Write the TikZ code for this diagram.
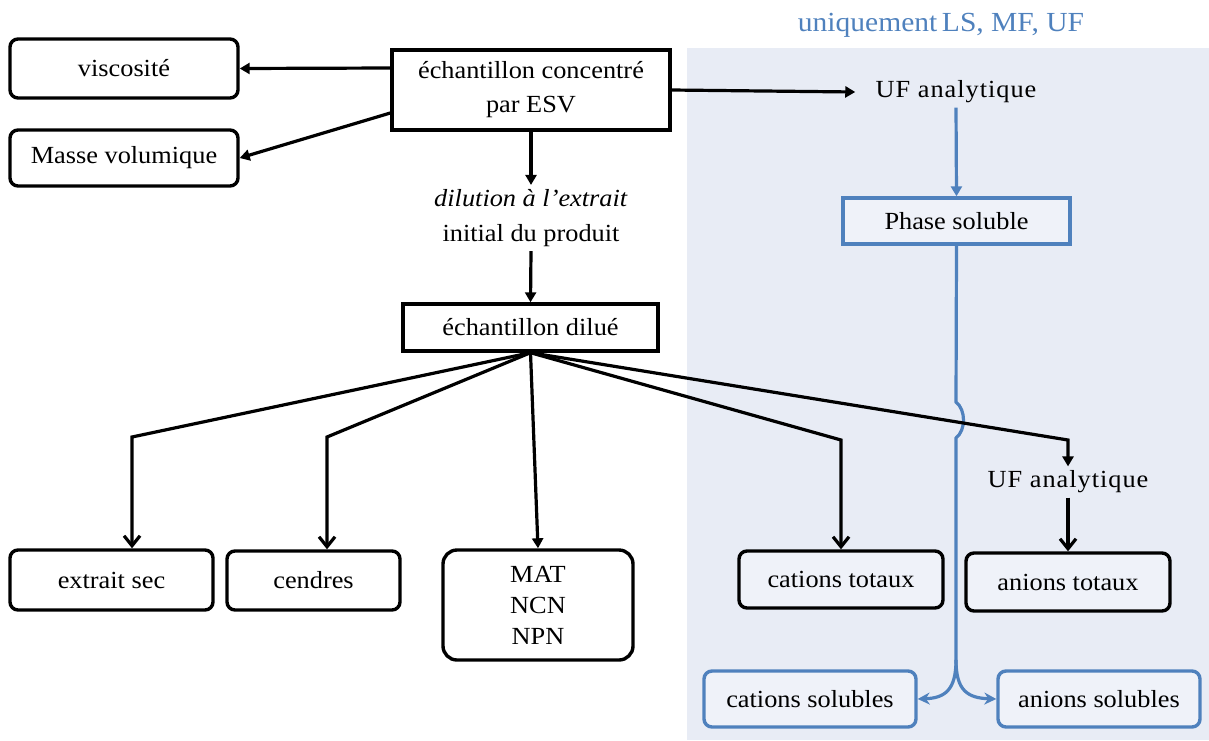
\documentclass[tikz,border=0pt]{standalone}
\usepackage{fontspec}
\setmainfont{Liberation Serif}[FakeStretch=1.07]
\usetikzlibrary{arrows.meta}
\definecolor{pblue}{RGB}{79,129,189}
\definecolor{panel}{RGB}{232,236,245}
\definecolor{boxin}{RGB}{239,242,249}
\begin{document}
\begin{tikzpicture}[x=0.5pt,y=-0.5pt,
  font=\fontsize{12.3}{14.5}\selectfont,
  box/.style={draw=black, line width=1.7pt, rounded corners=4pt, align=center, inner sep=0pt, fill=white},
  ibox/.style={box, fill=boxin},
  sq/.style={box, rounded corners=0pt},
  bbox/.style={draw=pblue, line width=1.7pt, rounded corners=4pt, fill=boxin, inner sep=0pt, align=center},
  lbl/.style={inner sep=2pt, align=center},
  ln/.style={line width=1.6pt},
  fa/.style={ln, -{Triangle[length=5pt,width=5.5pt]}},
  oa/.style={ln, -{Straight Barb[length=5pt,width=8pt]}},
  ba/.style={ln, draw=pblue, -{Triangle[length=5pt,width=5.5pt]}},
  bs/.style={ln, draw=pblue, -{Stealth[length=6pt,width=6pt]}},
  spaced/.style={font=\fontsize{12.3}{14.5}\selectfont\addfontfeature{LetterSpace=4}}
]
\useasboundingbox (0,0) rectangle (1209,740);
% panel
\fill[panel] (687,48) rectangle (1209,740);
\node[text=pblue, font=\fontsize{13.8}{16}\selectfont] (title) at (941,25) {uniquement\,LS, MF, UF};

% left column
\node[box, minimum width=114pt, minimum height=29.5pt] (visc) at (124,68.5) {viscosité};
\node[box, minimum width=114pt, minimum height=28pt] (masse) at (124,158) {Masse volumique};
\node[sq, minimum width=139pt, minimum height=40pt, font=\fontsize{12.3}{17}\selectfont] (conc) at (531,90) {échantillon concentré\\par ESV};
\node[lbl, font=\fontsize{12.3}{17.5}\selectfont] (dilt) at (531,218) {\textit{dilution à l’extrait}\\initial du produit};
\node[sq, minimum width=127.5pt, minimum height=23.5pt] (dil) at (530.5,327.5) {échantillon dilué};

\node[box, minimum width=101.5pt, minimum height=30pt] (ext) at (111.5,580) {extrait sec};
\node[box, minimum width=86.5pt, minimum height=29.5pt] (cend) at (313.5,580.5) {cendres};
\node[box, rounded corners=7pt, minimum width=95pt, minimum height=55pt, font=\fontsize{12.3}{15.5}\selectfont] (mat) at (538,605) {MAT\\NCN\\NPN};
\node[ibox, minimum width=102pt, minimum height=28.5pt] (catT) at (841,579.5) {cations totaux};
\node[ibox, minimum width=102pt, minimum height=29pt] (anT) at (1068,582) {anions totaux};

% right panel
\node[lbl, spaced] (uf1) at (956,92) {UF analytique};
\node[bbox, rounded corners=0pt, minimum width=113.5pt, minimum height=23pt] (phase) at (956.5,221) {Phase soluble};
\node[lbl, spaced] (uf2) at (1068,482) {UF analytique};
\node[bbox, minimum width=106pt, minimum height=28pt] (catS) at (810,699) {cations solubles};
\node[bbox, minimum width=101pt, minimum height=28pt] (anS) at (1099,699) {anions solubles};

% coordinates
\coordinate (k1) at (132,437);
\coordinate (k2) at (327,437);
\coordinate (k3) at (841,440);
\coordinate (k4) at (1068,440);
\coordinate (s0) at (956,402);
\coordinate (s1) at (956,438);
\coordinate (sp) at (956,660);

% blue connectors
\draw[ba] (uf1.south) -- (phase.north);
\draw[ln, draw=pblue] (phase.south) -- (s0) .. controls (966,410) and (966,430) .. (s1) -- (sp);
\draw[bs] (sp) .. controls (956,690) and (945,698) .. (catS.east);
\draw[bs] (sp) .. controls (956,690) and (967,698) .. (anS.west);

% black connectors
\draw[fa] ([yshift=11pt]conc.west) -- (visc.east);
\draw[fa] ([yshift=-11.5pt]conc.west) -- (masse.east);
\draw[fa] (conc.east) -- ([xshift=-8pt]uf1.west);
\draw[fa] (conc.south) -- (dilt.north);
\draw[fa] (dilt.south) -- (dil.north);
\draw[oa] (dil.south) -- (k1) -- (k1 |- ext.north);
\draw[oa] (dil.south) -- (k2) -- (k2 |- cend.north);
\draw[fa] (dil.south) -- (mat.north);
\draw[oa] (dil.south) -- (k3) -- (catT.north);
\draw[fa] (dil.south) -- (k4) -- (uf2.north);
\draw[oa] (uf2.south) -- (anT.north);
\end{tikzpicture}
\end{document}
